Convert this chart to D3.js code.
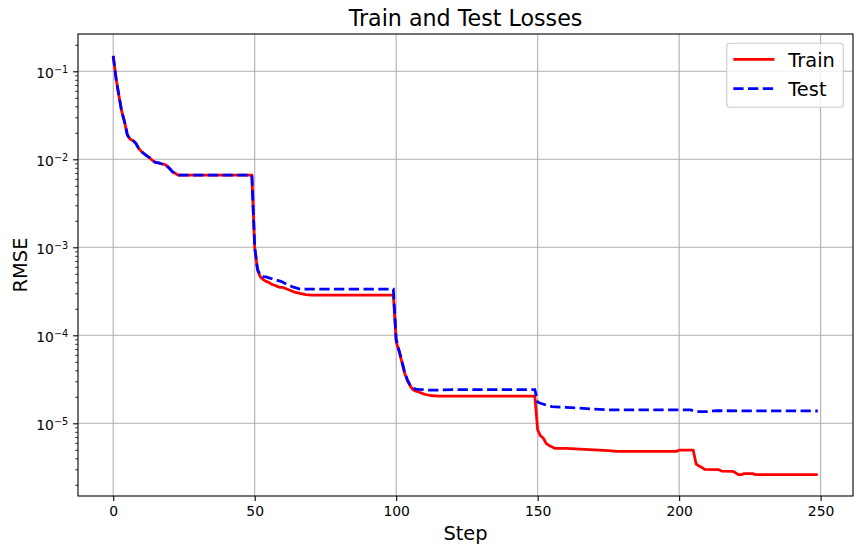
<!DOCTYPE html>
<html><head><meta charset="utf-8">
<script src="https://cdn.jsdelivr.net/npm/d3@7"></script>
<style>
body{margin:0;background:#fff;}
text{font-family:"DejaVu Sans",sans-serif;fill:#000;}
</style></head>
<body><svg id="c" width="862" height="554"></svg>
<script>
const trainSteps = [0,1,2,3,4,5,6,7,8,9,10,11,12,13,14,15,16,17,18,19,20,21,22,23,24,49,
  50,51,52,53,54,55,56,57,58,59,60,62,64,66,68,70,99,
  100,101,102,103,104,105,106,107,108,110,112,115,149,
  150,151,152,153,154,155,156,160,165,170,175,178,199,200,205,
  206,207,208,209,214,215,219,221,222,223,226,227,249];
const trainValues = [0.15,0.083,0.053,0.035,0.0267,0.0189,0.0169,0.0163,0.0152,0.0133,0.0122,0.0115,0.0109,0.0103,0.0096,0.0092,0.0091,0.0089,0.0088,0.0084,0.0078,0.0072,0.0069,0.0066,0.0066,0.0066,
  0.001,0.00055,0.00046,0.00043,0.00041,0.0004,0.00038,0.00037,0.00036,0.00035,0.00035,0.00033,0.00031,0.0003,0.00029,0.000287,0.000287,
  0.000085,0.000066,0.00005,0.000037,0.0000305,0.0000265,0.000024,0.0000232,0.0000227,0.0000214,0.0000207,0.0000204,0.0000204,
  0.0000084,0.0000072,0.0000068,0.0000059,0.0000056,0.0000054,0.0000052,0.0000052,0.0000051,0.000005,0.0000049,0.0000048,0.0000048,0.00000495,0.00000495,
  0.00000345,0.00000328,0.00000316,0.000003,0.00000297,0.00000287,0.00000285,0.00000261,0.00000261,0.00000268,0.00000268,0.00000261,0.00000261];

const testSteps = [0,1,2,3,4,5,6,7,8,9,10,11,12,13,14,15,16,17,18,19,20,21,22,23,24,49,
  50,51,52,53,54,55,56,57,58,59,60,62,64,66,68,99,
  100,101,102,103,104,105,106,107,108,112,115,120,149,
  150,151,153,155,160,165,170,176,204,206,210,213,249];
const testValues = [0.15,0.083,0.053,0.035,0.0267,0.0189,0.0169,0.0163,0.0152,0.0133,0.0122,0.0115,0.0109,0.0103,0.0096,0.0092,0.0091,0.0089,0.0088,0.0084,0.0078,0.0072,0.0069,0.0066,0.0066,0.0066,
  0.001,0.00056,0.00048,0.000465,0.00046,0.00045,0.00044,0.000425,0.00042,0.000413,0.0004,0.00037,0.00035,0.000336,0.000335,0.000334,
  0.00009,0.000068,0.000051,0.000038,0.000031,0.000027,0.000025,0.0000245,0.0000243,0.0000238,0.0000238,0.0000242,0.0000242,
  0.0000175,0.0000169,0.0000161,0.0000155,0.0000152,0.0000149,0.0000145,0.0000142,0.0000142,0.0000136,0.0000136,0.0000139,0.0000138];

const xTicks = [0,50,100,150,200,250];
const yMajorExps = [-5,-4,-3,-2,-1];
const titleText = "Train and Test Losses";
const xLabel = "Step";
const yLabel = "RMSE";
const seriesNames = ["Train","Test"];

const L=78, R=853, T=34, B=496;
const svg = d3.select("#c");
const x = d3.scaleLinear().domain([-12.45,261.45]).range([L,R]);
const y = d3.scaleLog().domain([Math.pow(10,-5.826),Math.pow(10,-0.5761)]).range([B,T]);

// grid
const g = svg.append("g");
xTicks.forEach(t=>{ g.append("line").attr("x1",x(t)).attr("x2",x(t)).attr("y1",T).attr("y2",B)
  .attr("stroke","#b0b0b0").attr("stroke-width",1.1); });
yMajorExps.forEach(e=>{ const v=Math.pow(10,e); g.append("line").attr("x1",L).attr("x2",R).attr("y1",y(v)).attr("y2",y(v))
  .attr("stroke","#b0b0b0").attr("stroke-width",1.1); });

// lines
const clip = svg.append("clipPath").attr("id","clp").append("rect").attr("x",L).attr("y",T).attr("width",R-L).attr("height",B-T);
const lineGen = d3.line().x(d=>x(d[0])).y(d=>y(d[1]));
const trainData = trainSteps.map((s,i)=>[s,trainValues[i]]);
const testData = testSteps.map((s,i)=>[s,testValues[i]]);
svg.append("path").attr("d",lineGen(trainData)).attr("fill","none").attr("stroke","#ff0000")
  .attr("stroke-width",2.78).attr("stroke-linejoin","round").attr("clip-path","url(#clp)");
svg.append("path").attr("d",lineGen(testData)).attr("fill","none").attr("stroke","#0000ff")
  .attr("stroke-width",2.78).attr("stroke-dasharray","10.3,4.45").attr("clip-path","url(#clp)");

// spines
svg.append("rect").attr("x",L).attr("y",T).attr("width",R-L).attr("height",B-T)
  .attr("fill","none").attr("stroke","#000").attr("stroke-width",1.1);

// x axis ticks
const xa = svg.append("g").attr("transform",`translate(0,${B})`)
  .call(d3.axisBottom(x).tickValues(xTicks).tickSize(4.9).tickPadding(4.9).tickFormat(d3.format("d")));
xa.select(".domain").remove();
xa.selectAll("line").attr("stroke","#000").attr("stroke-width",1.1);
xa.selectAll("text").attr("font-size","13.9px").attr("font-family","DejaVu Sans").attr("dy","0.76em");

// y axis ticks
const minors=[];
for(let e=-6;e<=-1;e++){ for(let m=2;m<=9;m++){ const v=m*Math.pow(10,e); if(v>y.domain()[0]&&v<y.domain()[1]) minors.push(v);} }
const ya = svg.append("g").attr("transform",`translate(${L},0)`)
  .call(d3.axisLeft(y).tickValues(minors).tickSize(2.8).tickFormat(""));
ya.select(".domain").remove();
ya.selectAll("line").attr("stroke","#000").attr("stroke-width",0.8);
const yb = svg.append("g").attr("transform",`translate(${L},0)`)
  .call(d3.axisLeft(y).tickValues(yMajorExps.map(e=>Math.pow(10,e))).tickSize(4.9).tickFormat(""));
yb.select(".domain").remove();
yb.selectAll("line").attr("stroke","#000").attr("stroke-width",1.1);
yMajorExps.forEach(e=>{
  const t = svg.append("text").attr("x",L-9.8).attr("y",y(Math.pow(10,e))+7).attr("text-anchor","end").attr("font-size","13.9px");
  t.append("tspan").text("10");
  t.append("tspan").attr("font-size","9.7px").attr("dy","-5.5").text("\u2212"+Math.abs(e));
});

// labels
svg.append("text").attr("x",(L+R)/2).attr("y",26).attr("text-anchor","middle").attr("font-size","22.2px").text(titleText);
svg.append("text").attr("x",(L+R)/2).attr("y",540).attr("text-anchor","middle").attr("font-size","19.4px").text(xLabel);
svg.append("text").attr("transform",`translate(26.7,${(T+B)/2}) rotate(-90)`).attr("text-anchor","middle").attr("font-size","19.4px").text(yLabel);

// legend
const lg = svg.append("g");
lg.append("rect").attr("x",726.7).attr("y",43.3).attr("width",116.6).attr("height",64).attr("rx",3)
  .attr("fill","#fff").attr("fill-opacity",0.8).attr("stroke","#cccccc").attr("stroke-width",1.1);
lg.append("line").attr("x1",733.3).attr("x2",774.5).attr("y1",59.3).attr("y2",59.3).attr("stroke","#ff0000").attr("stroke-width",2.78);
lg.append("line").attr("x1",733.3).attr("x2",774.5).attr("y1",88.7).attr("y2",88.7).attr("stroke","#0000ff").attr("stroke-width",2.78).attr("stroke-dasharray","10.3,4.45");
lg.append("text").attr("x",788.3).attr("y",66.5).attr("font-size","19.4px").text(seriesNames[0]);
lg.append("text").attr("x",788.3).attr("y",95.8).attr("font-size","19.4px").text(seriesNames[1]);
</script></body></html>
